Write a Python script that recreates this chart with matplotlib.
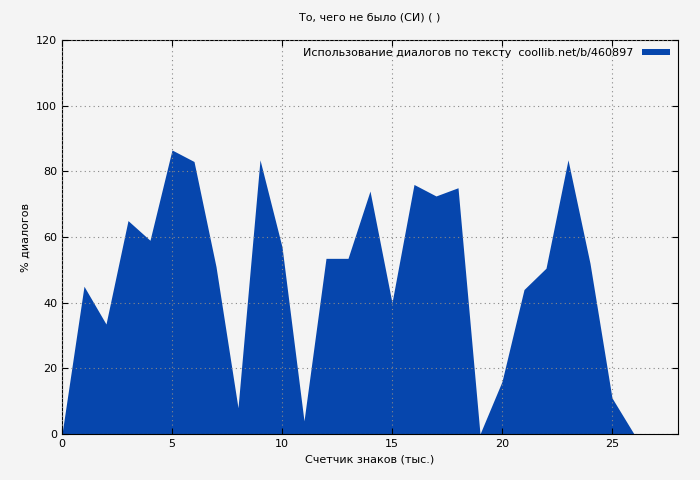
import matplotlib
matplotlib.use("Agg")
import matplotlib.pyplot as plt

x = list(range(27))
y = [0, 45, 33.5, 65, 59, 86.5, 83, 51, 8, 83.5, 57, 4, 53.5, 53.5, 74, 40, 76, 72.5, 75, 0, 16, 44, 50.5, 83.5, 52, 11, 0]
xticks = [0, 5, 10, 15, 20, 25]
yticks = [0, 20, 40, 60, 80, 100, 120]

plt.rcParams['font.family'] = ['DejaVu Sans']
plt.rcParams['font.size'] = 8
fig = plt.figure(figsize=(7, 4.8), dpi=100, facecolor='#f4f4f4')
ax = fig.add_axes([62/700, 1-434/480, 616/700, 394/480])
ax.set_facecolor('#f4f4f4')
ax.fill_between(x, y, 0, color='#0646ad', linewidth=0, label='Использование диалогов по тексту  coollib.net/b/460897')
ax.set_xlim(0, 28)
ax.set_ylim(0, 120)
ax.set_xticks(xticks)
ax.set_yticks(yticks)
ax.grid(True, linestyle=(0, (1, 3)), color='#888888', linewidth=0.8)
ax.set_axisbelow(False)
ax.tick_params(direction='in', length=4, top=True, right=True)
ax.set_xlabel('Счетчик знаков (тыс.)')
ax.set_ylabel('% диалогов')
ax.set_title('То, чего не было (СИ) ( )', fontsize=8, pad=14)
leg = ax.legend(loc='upper right', frameon=False, handlelength=2.5, handleheight=0.5, markerfirst=False, borderaxespad=0.3)
fig.savefig('out.png', dpi=100, facecolor=fig.get_facecolor())
